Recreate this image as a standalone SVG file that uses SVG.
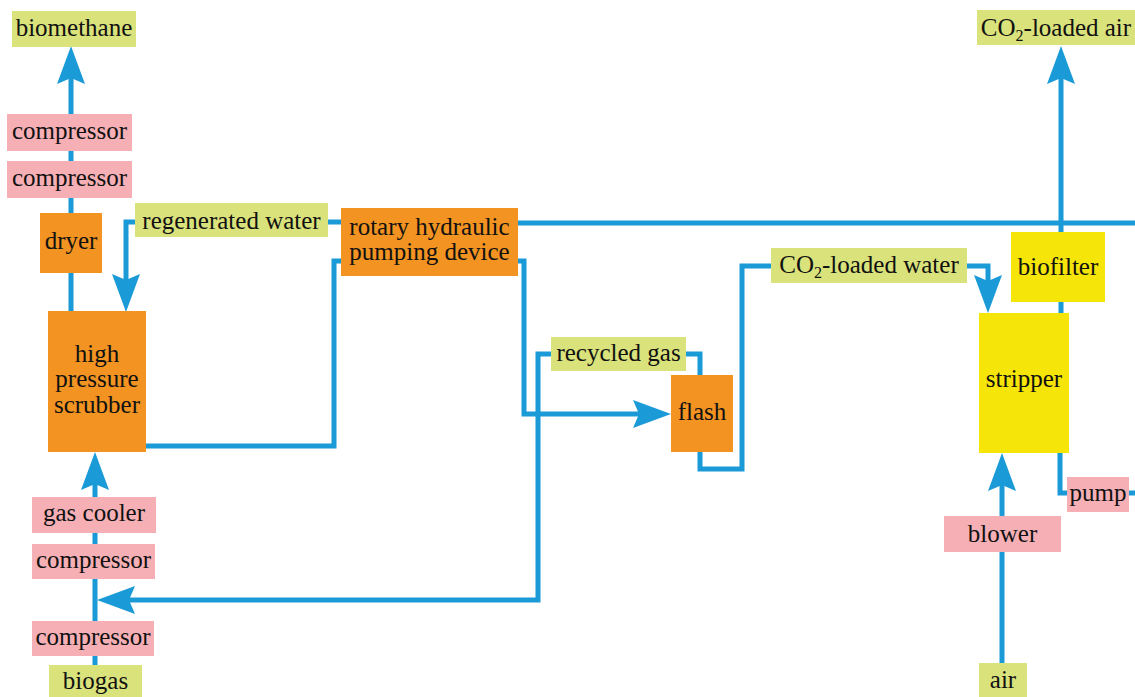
<svg xmlns="http://www.w3.org/2000/svg" width="1135" height="697" viewBox="0 0 1135 697">
<defs>
<marker id="arr" markerUnits="userSpaceOnUse" markerWidth="40" markerHeight="30" refX="18" refY="14" orient="auto" overflow="visible">
<path d="M0,0 L38,14 L0,28 L6,14 z" fill="#1a9ad6"/>
</marker>
</defs>
<style>
.ln{fill:none;stroke:#1a9ad6;stroke-width:5;stroke-linejoin:miter}
.ar{marker-end:url(#arr)}
.g{fill:#d9e27b}
.p{fill:#f6b0b5}
.o{fill:#f39322}
.y{fill:#f5e509}
text{font-size:25px;fill:#111;text-anchor:middle}
</style>
<rect width="1135" height="697" fill="#fff"/>
<g id="connectors">
<path class="ln ar" d="M95,665 V472"/>
<path class="ln ar" d="M551,354 H538 V600 H117"/>
<path class="ln" d="M686,354 H700 V375"/>
<path class="ln ar" d="M71,311 V66"/>
<path class="ln ar" d="M341,222 H126 V292"/>
<path class="ln" d="M146,446 H334 V261 H341"/>
<path class="ln ar" d="M518,261 H524 V414 H651"/>
<path class="ln" d="M518,223 H1135"/>
<path class="ln ar" d="M700,452 V469 H742 V266 H988 V293"/>
<path class="ln ar" d="M1061,313 V66"/>
<path class="ln" d="M1060,453 V493 H1135"/>
<path class="ln ar" d="M1002,663 V473"/>
</g>
<g font-family="'Liberation Serif', 'Times New Roman', serif">
<g id="biomethane"><rect class="g" x="12" y="11" width="124" height="36"/><text x="74" y="36">biomethane</text></g>
<g id="compressor1"><rect class="p" x="7" y="114" width="125" height="37"/><text x="69.5" y="139">compressor</text></g>
<g id="compressor2"><rect class="p" x="7" y="161" width="125" height="37"/><text x="69.5" y="186">compressor</text></g>
<g id="dryer"><rect class="o" x="40" y="213" width="62" height="60"/><text x="71" y="249">dryer</text></g>
<g id="regenerated-water"><rect class="g" x="135" y="203" width="193" height="34"/><text x="231.5" y="229">regenerated water</text></g>
<g id="rotary"><rect class="o" x="341" y="208" width="177" height="68"/><text x="429.5" y="235">rotary hydraulic</text><text x="429.5" y="260">pumping device</text></g>
<g id="scrubber"><rect class="o" x="48" y="311" width="98" height="141"/><text x="97" y="362">high</text><text x="97" y="387">pressure</text><text x="97" y="413">scrubber</text></g>
<g id="gas-cooler"><rect class="p" x="32" y="497" width="124" height="36"/><text x="94" y="521">gas cooler</text></g>
<g id="compressor3"><rect class="p" x="32" y="544" width="123" height="35"/><text x="93.5" y="568">compressor</text></g>
<g id="compressor4"><rect class="p" x="32" y="621" width="122" height="35"/><text x="93" y="645">compressor</text></g>
<g id="biogas"><rect class="g" x="49" y="665" width="93" height="32"/><text x="95.5" y="689">biogas</text></g>
<g id="recycled-gas"><rect class="g" x="551" y="337" width="135" height="34"/><text x="618.5" y="361">recycled gas</text></g>
<g id="flash"><rect class="o" x="671" y="375" width="62" height="77"/><text x="702" y="420">flash</text></g>
<g id="co2-water"><rect class="g" x="771" y="248" width="196" height="35"/><text x="869" y="273">CO<tspan font-size="16" dy="5">2</tspan><tspan dy="-5">-loaded water</tspan></text></g>
<g id="biofilter"><rect class="y" x="1011" y="232" width="94" height="70"/><text x="1058" y="275">biofilter</text></g>
<g id="stripper"><rect class="y" x="979" y="313" width="90" height="140"/><text x="1024" y="387">stripper</text></g>
<g id="co2-air"><rect class="g" x="977" y="10" width="158" height="35"/><text x="1056" y="36">CO<tspan font-size="16" dy="5">2</tspan><tspan dy="-5">-loaded air</tspan></text></g>
<g id="pump"><rect class="p" x="1067" y="477" width="62" height="35"/><text x="1098" y="501">pump</text></g>
<g id="blower"><rect class="p" x="944" y="516" width="117" height="36"/><text x="1002.5" y="542">blower</text></g>
<g id="air"><rect class="g" x="979" y="663" width="48" height="34"/><text x="1003" y="688">air</text></g>
</g>
</svg>
